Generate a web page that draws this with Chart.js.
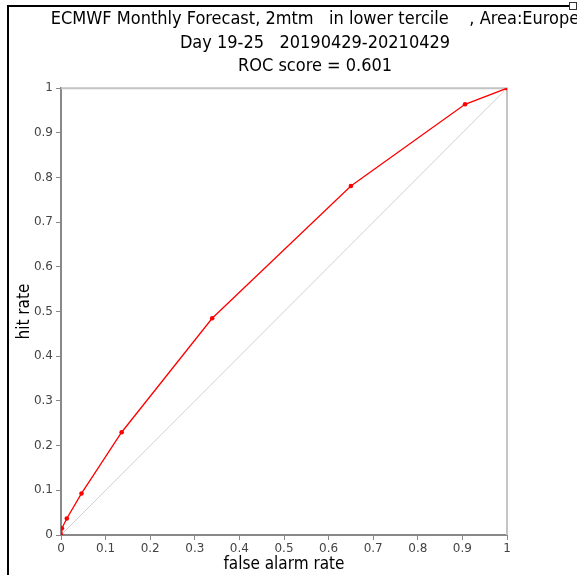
<!DOCTYPE html>
<html>
<head>
<meta charset="utf-8">
<script src="https://cdn.jsdelivr.net/npm/chart.js@4"></script>
<style>
  html, body { margin: 0; padding: 0; background: #fff; overflow: hidden; width: 577px; height: 575px; }
  #frame { position: absolute; left: 7px; top: 5px; width: 700px; height: 700px; border-left: 2px solid #000; border-top: 2px solid #000; }
  #icon { position: absolute; left: 569px; top: 2px; width: 6px; height: 6px; border: 1px solid #333; background: #fff; }
  #wrap { position: absolute; left: 0; top: 0; width: 630px; height: 575px; }
</style>
</head>
<body>
<div id="frame"></div>
<div id="wrap"><canvas id="c" width="630" height="575"></canvas></div>
<div id="icon"></div>
<script>
const titleLines = ["ECMWF Monthly Forecast, 2mtm   in lower tercile    , Area:Europe", "Day 19-25   20190429-20210429", "ROC score = 0.601"];
const falseAlarmRate = [0, 0.002, 0.013, 0.046, 0.136, 0.339, 0.650, 0.906, 1];
const hitRate = [0, 0.015, 0.037, 0.093, 0.230, 0.485, 0.781, 0.964, 1];
const diagonalX = [0, 1];
const diagonalY = [0, 1];
const xAxisTitle = "false alarm rate";
const yAxisTitle = "hit rate";

const rocPoints = falseAlarmRate.map((x, i) => ({ x: x, y: hitRate[i] }));
const diagPoints = diagonalX.map((x, i) => ({ x: x, y: diagonalY[i] }));

const boxPlugin = {
  id: 'box',
  beforeDatasetsDraw(chart) {
    const { ctx, chartArea: a } = chart;
    ctx.save();
    ctx.strokeStyle = '#c4c4c4';
    ctx.lineWidth = 2;
    ctx.beginPath();
    ctx.moveTo(a.left, a.top);
    ctx.lineTo(a.right, a.top);
    ctx.lineTo(a.right, a.bottom);
    ctx.stroke();
    ctx.restore();
  }
};

const fmt = v => String(Math.round(v * 10) / 10);

new Chart(document.getElementById('c'), {
  type: 'scatter',
  data: {
    datasets: [
      { data: diagPoints, showLine: true, borderColor: '#d0d0d0', borderWidth: 1, pointRadius: 0, order: 2 },
      { data: rocPoints, showLine: true, borderColor: '#ff0000', backgroundColor: '#ff0000', borderWidth: 1.3, pointRadius: 2.3, pointBorderWidth: 0, order: 1 }
    ]
  },
  options: {
    responsive: false,
    animation: false,
    layout: { padding: { left: 10, right: 10, top: 0, bottom: 0 } },
    plugins: {
      legend: { display: false },
      tooltip: { enabled: false },
      title: {
        display: true,
        text: titleLines,
        color: '#000',
        font: { family: 'DejaVu Sans Condensed', size: 18, weight: 'normal', lineHeight: 1.3 },
        padding: { top: 8, bottom: 10 }
      }
    },
    scales: {
      x: {
        type: 'linear', min: 0, max: 1,
        afterFit: s => { s.height = 40; },
        ticks: { stepSize: 0.1, callback: fmt, color: '#444', font: { family: 'DejaVu Sans', size: 12 }, maxRotation: 0, padding: 2 },
        grid: { drawOnChartArea: false, drawTicks: true, tickLength: 5, color: '#888', tickWidth: 1 },
        border: { color: '#888', width: 2 },
        title: { display: true, text: xAxisTitle, color: '#000', font: { family: 'DejaVu Sans Condensed', size: 17 }, padding: { top: 0, bottom: 0 } }
      },
      y: {
        type: 'linear', min: 0, max: 1,
        afterFit: s => { s.width = 51; },
        ticks: { stepSize: 0.1, callback: fmt, color: '#444', font: { family: 'DejaVu Sans', size: 12 }, padding: 3 },
        grid: { drawOnChartArea: false, drawTicks: true, tickLength: 5, color: '#888', tickWidth: 1 },
        border: { color: '#888', width: 2 },
        title: { display: true, text: yAxisTitle, color: '#000', font: { family: 'DejaVu Sans Condensed', size: 17 }, padding: { top: 4, bottom: 0 } }
      },
      spacer: {
        type: 'linear', position: 'right', display: true,
        afterFit: s => { s.width = 113; },
        ticks: { display: false },
        grid: { display: false, drawTicks: false },
        border: { display: false }
      }
    }
  },
  plugins: [boxPlugin]
});
</script>
</body>
</html>
